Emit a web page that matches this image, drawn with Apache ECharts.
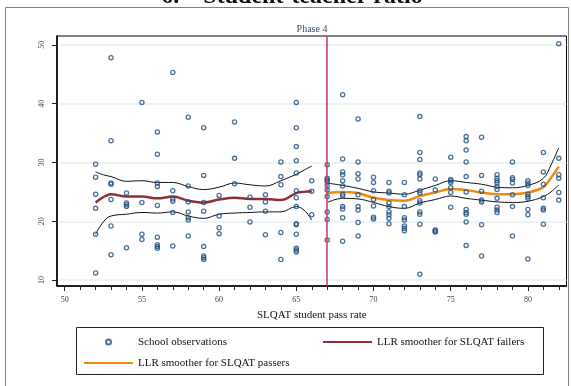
<!DOCTYPE html>
<html>
<head>
<meta charset="utf-8">
<script src="https://cdn.jsdelivr.net/npm/echarts@6/dist/echarts.min.js"></script>
<style>
  html, body { margin: 0; padding: 0; background: #fff; }
  #chart { width: 571px; height: 386px; }
</style>
</head>
<body>
<div id="chart"></div>
<script>
// school observations, one column per pass rate
var obsPassRate = [52, 53, 54, 55, 56, 57, 58, 59, 60, 61, 62, 63, 64, 65, 66, 67,
  68, 69, 70, 71, 72, 73, 74, 75, 76, 77, 78, 79, 80, 81, 82]
var obsRatio = [
  [29.7, 27.5, 24.6, 22.2, 17.8, 11.2],
  [47.8, 33.7, 26.5, 26.3, 23.7, 19.2, 14.3],
  [24.8, 23.1, 22.8, 22.5, 15.5],
  [40.2, 23.2, 17.8, 16.9],
  [35.2, 31.4, 26.5, 25.9, 22.7, 17.3, 16.0, 15.7, 15.4],
  [45.3, 25.2, 23.8, 23.4, 21.5, 15.8],
  [37.7, 26.0, 23.3, 21.6, 20.6, 20.2, 17.5],
  [35.9, 27.8, 23.2, 21.7, 15.7, 14.1, 13.8, 13.5],
  [24.4, 20.9, 18.9, 17.9],
  [36.9, 30.7, 26.4],
  [24.1, 22.4, 19.9],
  [24.5, 23.3, 21.7, 17.7],
  [30.1, 27.6, 26.2, 18.1, 13.5],
  [40.2, 35.9, 32.7, 30.3, 28.2, 25.2, 24.0, 22.5, 19.6, 19.4, 17.8, 15.4, 15.1, 14.8],
  [26.9, 25.1, 21.1],
  [29.6, 27.3, 27.0, 26.7, 26.1, 25.3, 24.2, 21.6, 20.3, 16.8],
  [41.5, 30.6, 28.4, 27.9, 26.9, 26.0, 24.6, 24.3, 22.5, 22.1, 20.6, 16.6],
  [37.4, 30.1, 28.1, 27.2, 24.5, 22.5, 21.9, 19.8, 17.5],
  [27.5, 26.6, 25.2, 23.7, 22.6, 20.7, 20.4],
  [26.6, 25.1, 24.8, 23.1, 22.5, 21.6, 21.1, 20.5, 19.6],
  [26.6, 24.5, 22.5, 20.6, 20.2, 19.2, 18.8, 18.4],
  [37.8, 31.7, 30.5, 28.2, 27.9, 27.2, 25.2, 24.8, 23.5, 23.1, 21.6, 21.2, 19.5, 11.0],
  [27.2, 25.3, 18.5, 18.3, 18.2],
  [30.9, 27.1, 26.9, 26.6, 25.7, 24.9, 22.4],
  [34.4, 33.7, 32.1, 30.1, 27.6, 25.0, 22.0, 21.5, 21.2, 19.9, 15.9],
  [34.3, 27.8, 25.1, 23.6, 23.3, 19.4, 14.1],
  [27.9, 27.3, 26.9, 26.5, 25.9, 25.4, 23.9, 22.4, 21.9, 21.5],
  [30.1, 27.4, 27.1, 26.5, 24.5, 22.5, 17.5],
  [26.9, 26.5, 26.1, 24.6, 24.2, 23.9, 22.0, 21.1, 13.6],
  [31.7, 28.4, 26.3, 24.0, 22.2, 21.9, 19.5],
  [50.2, 30.7, 27.9, 27.3, 24.9, 23.6]
]

// LLR smoothers with bands, failers (below cutoff)
var failX = [52, 52.5, 53, 54, 55, 56, 57, 58, 59, 60, 61, 62, 63, 64, 65, 65.5, 66]
var failFit = [23.2, 24.1, 24.6, 24.2, 24.2, 23.9, 24.2, 23.5, 23.2, 23.7, 24.0, 23.8, 23.8, 23.6, 24.8, 25.0, 25.1]
var failUpper = [28.4, 27.9, 27.6, 26.8, 26.9, 26.6, 26.6, 25.9, 25.4, 25.8, 26.5, 26.2, 26.0, 26.9, 28.0, 28.7, 29.4]
var failLower = [17.8, 19.9, 20.9, 21.2, 21.5, 21.4, 21.6, 20.9, 20.5, 21.2, 21.4, 21.5, 21.6, 21.6, 22.5, 21.9, 20.2]

// passers (cutoff and above)
var passX = [67, 68, 69, 70, 71, 72, 73, 74, 75, 76, 77, 78, 79, 80, 81, 81.5, 82]
var passFit = [24.8, 25.0, 24.8, 24.0, 23.6, 23.5, 24.3, 24.9, 25.5, 25.3, 24.9, 24.6, 24.6, 24.9, 25.8, 27.4, 29.3]
var passUpper = [26.5, 26.1, 25.6, 25.0, 24.8, 24.6, 25.3, 26.1, 26.9, 26.6, 26.3, 25.8, 25.7, 26.1, 27.3, 29.6, 32.5]
var passLower = [23.2, 23.9, 23.8, 23.2, 22.5, 22.2, 23.1, 23.7, 24.3, 23.9, 23.6, 23.3, 23.2, 23.4, 24.2, 25.0, 26.2]

var cutoff = 67
var xTicks = { min: 50, max: 85, step: 5 }
var yTicks = { min: 10, max: 60, step: 10 }

var W = 571, H = 386
var plot = { left: 57, right: 4.5, top: 36, bottom: 100 }
var xMin = 49.5, xMax = 82.5, yMin = 9, yMax = 51.5
var pxX = (W - plot.left - plot.right) / (xMax - xMin)
var pxY = (H - plot.top - plot.bottom) / (yMax - yMin)

// helper grids carry the visible ticks so they line up with the data grid
var tickGridLeft = plot.left + (xTicks.min - xMin) * pxX
var tickGridRight = W - (tickGridLeft + (xTicks.max - xTicks.min) * pxX)
var ruleGridTop = plot.top - (yTicks.max - yMax) * pxY
var ruleGridBottom = H - (plot.top + (yMax - yTicks.min) * pxY)

var serif = 'Liberation Serif'
var navy = '#1f4e7e'

function pairs (xs, ys) {
  return xs.map(function (x, i) { return [x, ys[i]] })
}

var obs = []
obsPassRate.forEach(function (x, i) {
  obsRatio[i].forEach(function (y) { obs.push([x, y]) })
})

function band (data) {
  return {
    type: 'line', data: data, smooth: 0.4, symbol: 'none', silent: true,
    lineStyle: { color: '#111', width: 1 }, z: 3
  }
}

var chart = echarts.init(document.getElementById('chart'))

var option = {
  animation: false,
  backgroundColor: '#fff',
  grid: [
    { left: plot.left, right: plot.right, top: plot.top, bottom: plot.bottom,
      outerBoundsMode: 'none', containLabel: false,
      show: true, borderColor: '#000', borderWidth: 1 },
    { left: tickGridLeft, right: tickGridRight, top: plot.top, bottom: plot.bottom,
      outerBoundsMode: 'none', containLabel: false },
    { left: plot.left, right: plot.right, top: ruleGridTop, bottom: ruleGridBottom,
      outerBoundsMode: 'none', containLabel: false }
  ],
  xAxis: [
    { gridIndex: 0, type: 'value', min: xMin, max: xMax,
      axisLine: { show: true, onZero: false, lineStyle: { color: '#000', width: 1.5 } },
      axisTick: { show: false }, axisLabel: { show: false }, splitLine: { show: false },
      name: 'SLQAT student pass rate', nameLocation: 'middle', nameGap: 24,
      nameTextStyle: { fontFamily: serif, fontSize: 11, color: '#111' } },
    { gridIndex: 1, type: 'value', min: xTicks.min, max: xTicks.max, interval: xTicks.step,
      axisLine: { show: false, onZero: false },
      axisTick: { show: true, length: 5, lineStyle: { color: '#222' } },
      minorTick: { show: true, splitNumber: 5, length: 4, lineStyle: { color: '#222' } },
      axisLabel: { fontFamily: serif, fontSize: 8, color: '#444', margin: 10 },
      splitLine: { show: false } },
    { gridIndex: 2, type: 'value', show: false, min: 0, max: 1 }
  ],
  yAxis: [
    { gridIndex: 0, type: 'value', min: yMin, max: yMax,
      axisLine: { show: true, onZero: false, lineStyle: { color: '#000', width: 1.5 } },
      axisTick: { show: false }, axisLabel: { show: false }, splitLine: { show: false } },
    { gridIndex: 1, type: 'value', show: false, min: 0, max: 1 },
    { gridIndex: 2, type: 'value', min: yTicks.min, max: yTicks.max, interval: yTicks.step,
      axisLine: { show: false, onZero: false },
      axisTick: { show: true, length: 5, lineStyle: { color: '#222' } },
      axisLabel: { fontFamily: serif, fontSize: 8, color: '#444', rotate: 90, margin: 11 },
      splitLine: { show: true, lineStyle: { color: '#e8eff1', width: 1.5 } } }
  ],
  legend: {
    data: [
      'School observations',
      { name: 'LLR smoother for SLQAT failers', itemStyle: { opacity: 0 } },
      { name: 'LLR smoother for SLQAT passers', itemStyle: { opacity: 0 } }
    ],
    left: 83, top: 335, width: 480, padding: 0,
    itemWidth: 49, itemHeight: 5, itemGap: 7, selectedMode: false,
    textStyle: { fontFamily: serif, fontSize: 11, color: '#111', width: 177, lineHeight: 14 }
  },
  graphic: [
    { type: 'rect', z: -10, silent: true,
      shape: { x: 5.5, y: 7.5, width: 563, height: 400 },
      style: { fill: 'none', stroke: '#808080', lineWidth: 1 } },
    { type: 'rect', silent: true,
      shape: { x: 76.5, y: 327.5, width: 467, height: 47 },
      style: { fill: 'none', stroke: '#222', lineWidth: 1 } },
    { type: 'text', x: 292, y: -3, silent: true,
      style: { text: '6.    Student-teacher ratio', font: 'bold 24px "Liberation Serif"', fill: '#111',
        align: 'center', verticalAlign: 'middle', textAlign: 'center', textVerticalAlign: 'middle' } },
    { type: 'text', x: 312, y: 29, silent: true,
      style: { text: 'Phase 4', font: '10px "Liberation Serif"', fill: '#3b4a6b',
        align: 'center', verticalAlign: 'middle', textAlign: 'center', textVerticalAlign: 'middle' } }
  ],
  series: [
    { name: 'School observations', type: 'scatter', data: obs,
      symbol: 'circle', symbolSize: 4.2, z: 4,
      itemStyle: { color: 'rgba(255,255,255,0)', borderColor: navy, borderWidth: 1.3 },
      markLine: {
        silent: true, symbol: ['none', 'none'], label: { show: false },
        lineStyle: { color: '#c83a62', width: 1.5, type: 'solid' },
        data: [{ xAxis: cutoff }]
      } },
    band(pairs(failX, failUpper)),
    band(pairs(failX, failLower)),
    { name: 'LLR smoother for SLQAT failers', type: 'line', data: pairs(failX, failFit),
      smooth: 0.4, symbol: 'none', z: 3,
      itemStyle: { color: '#8f2f3a' }, lineStyle: { color: '#8f2f3a', width: 2.5 } },
    band(pairs(passX, passUpper)),
    band(pairs(passX, passLower)),
    { name: 'LLR smoother for SLQAT passers', type: 'line', data: pairs(passX, passFit),
      smooth: 0.4, symbol: 'none', z: 3,
      itemStyle: { color: '#ee8a0e' }, lineStyle: { color: '#ee8a0e', width: 2.5 } }
  ]
}

chart.setOption(option)
</script>
</body>
</html>
